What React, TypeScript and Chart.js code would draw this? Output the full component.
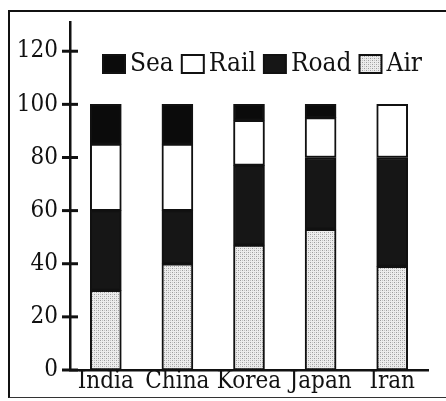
import React, { useEffect, useRef } from "react";
import { Chart, registerables } from "chart.js";

Chart.register(...registerables);

const categories = ["India", "China", "Korea", "Japan", "Iran"];
const airShare = [30, 40, 47, 53, 39];
const roadShare = [30, 20, 30, 27, 41];
const railShare = [25, 25, 17, 15, 20];
const seaShare = [15, 15, 6, 5, 0];
const yTickValues = [0, 20, 40, 60, 80, 100, 120];
const legendOrder = ["Sea", "Rail", "Road", "Air"];

const FONT_FAMILY = "'DejaVu Serif Condensed', 'DejaVu Serif', serif";
const INK = "#111";

function makeStipple(): CanvasPattern | string {
  const c = document.createElement("canvas");
  c.width = 4;
  c.height = 4;
  const g = c.getContext("2d");
  if (!g) return "#d6d6d6";
  g.fillStyle = "#ececec";
  g.fillRect(0, 0, 4, 4);
  g.fillStyle = "#9c9c9c";
  g.fillRect(0, 0, 1, 1);
  g.fillRect(2, 2, 1, 1);
  g.fillStyle = "#c4c4c4";
  g.fillRect(2, 0, 1, 1);
  g.fillRect(0, 2, 1, 1);
  const p = g.createPattern(c, "repeat");
  return p || "#d6d6d6";
}

const crossTicksPlugin = {
  id: "crossTicks",
  afterDraw(chart: any) {
    const ctx = chart.ctx;
    const y = chart.scales.y;
    const x0 = chart.chartArea.left;
    ctx.save();
    ctx.strokeStyle = INK;
    ctx.lineWidth = 3;
    y.ticks.forEach((t: any) => {
      const py = y.getPixelForValue(t.value);
      ctx.beginPath();
      ctx.moveTo(x0 - 8, py);
      ctx.lineTo(x0 + 8, py);
      ctx.stroke();
    });
    ctx.restore();
  },
};

const boxLegendPlugin = {
  id: "boxLegend",
  afterDraw(chart: any) {
    const ctx = chart.ctx;
    ctx.save();
    ctx.font = `26px ${FONT_FAMILY}`;
    ctx.textBaseline = "middle";
    ctx.textAlign = "left";
    let x = 103;
    const cy = 64;
    const boxW = 22;
    const boxH = 18;
    legendOrder.forEach((name) => {
      const ds = chart.data.datasets.find((d: any) => d.label === name);
      ctx.fillStyle = ds ? ds.backgroundColor : "#fff";
      ctx.fillRect(x, cy - boxH / 2, boxW, boxH);
      ctx.lineWidth = 2;
      ctx.strokeStyle = INK;
      ctx.strokeRect(x, cy - boxH / 2, boxW, boxH);
      x += boxW + 5;
      ctx.fillStyle = INK;
      ctx.fillText(name, x, cy);
      x += ctx.measureText(name).width + 8;
    });
    ctx.restore();
  },
};

export default function App() {
  const canvasRef = useRef<HTMLCanvasElement | null>(null);

  useEffect(() => {
    if (!canvasRef.current) return;
    const stipple = makeStipple();
    const common = {
      borderColor: INK,
      borderWidth: 2,
      borderSkipped: false as const,
      barThickness: 31,
    };
    const chart = new Chart(canvasRef.current, {
      type: "bar",
      data: {
        labels: categories,
        datasets: [
          { label: "Air", data: airShare, backgroundColor: stipple as any, ...common },
          { label: "Road", data: roadShare, backgroundColor: "#161616", ...common },
          { label: "Rail", data: railShare, backgroundColor: "#ffffff", ...common },
          { label: "Sea", data: seaShare, backgroundColor: "#0b0b0b", ...common },
        ],
      },
      options: {
        responsive: false,
        animation: false,
        devicePixelRatio: 1,
        layout: { padding: { top: 22, right: 18, bottom: 0, left: 0 } },
        plugins: {
          legend: { display: false },
          tooltip: { enabled: false },
        },
        scales: {
          x: {
            stacked: true,
            grid: { display: false, drawTicks: false },
            border: { display: true, color: INK, width: 2.5 },
            ticks: {
              color: INK,
              font: { family: FONT_FAMILY, size: 24 },
              padding: -3,
              maxRotation: 0,
              autoSkip: false,
            },
            afterFit: (scale: any) => {
              scale.height = 31;
              scale.paddingLeft = 0;
              scale.paddingRight = 0;
            },
          },
          y: {
            stacked: true,
            min: 0,
            max: 131,
            grid: { display: false, drawTicks: false },
            border: { display: true, color: INK, width: 2.5 },
            ticks: {
              color: INK,
              font: { family: FONT_FAMILY, size: 24 },
              padding: 12,
            },
            afterBuildTicks: (scale: any) => {
              scale.ticks = yTickValues.map((v) => ({ value: v }));
            },
            afterFit: (scale: any) => {
              scale.width = 70;
              scale.paddingTop = 0;
              scale.paddingBottom = 0;
            },
          },
        },
      },
      plugins: [crossTicksPlugin, boxLegendPlugin],
    });
    return () => chart.destroy();
  }, []);

  return (
    <div style={{ position: "absolute", left: 0, top: 0, width: 446, height: 401, background: "#fff" }}>
      <div
        style={{
          position: "absolute",
          left: 8,
          top: 10,
          width: 438,
          height: 388,
          borderLeft: "2.5px solid #111",
          borderTop: "2.5px solid #111",
          borderBottom: "1.5px solid #333",
          boxSizing: "border-box",
        }}
      />
      <canvas
        ref={canvasRef}
        width={446}
        height={401}
        style={{ position: "absolute", left: 0, top: 0, width: 446, height: 401 }}
      />
    </div>
  );
}
